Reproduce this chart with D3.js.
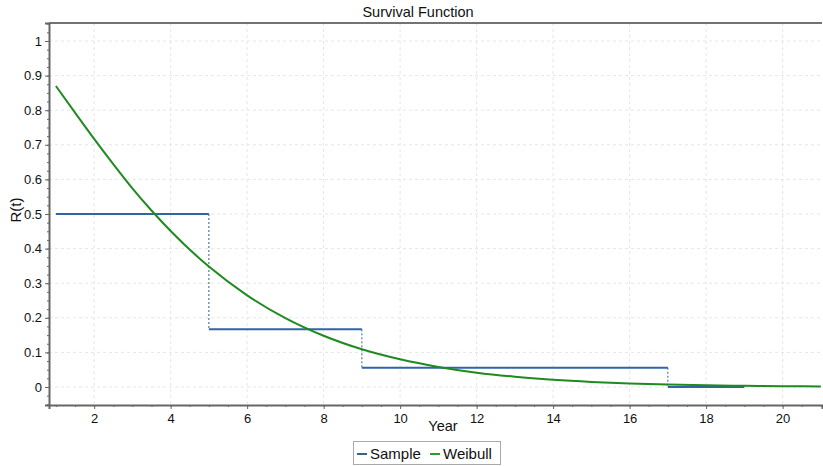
<!DOCTYPE html>
<meta charset="utf-8">
<title>Survival Function</title>
<script src="https://d3js.org/d3.v7.min.js"></script>
<style>
  body { margin: 0; background: white; }
  svg { font-family: "Liberation Sans", Arial, sans-serif; }
  .grid line { stroke: #e6e6e6; stroke-dasharray: 3,3; }
</style>
<body>
<svg class=chart></svg>
<script>

var width = 823;
var height = 466;
var left = 49, top_ = 23, right = 822, bottom = 405;

// sample (empirical) survival steps
var sample_t = [1, 5, 9, 17, 19];
var sample_r = [0.5, 0.1667, 0.0556, 0, 0];

// fitted Weibull curve
var weibull_t = [1, 1.5, 2, 2.5, 3, 3.5, 4, 5, 6, 7, 8, 9, 10, 11, 12, 13, 14, 15, 16, 17, 18, 19, 20, 21];
var weibull_r = [0.870, 0.793, 0.717, 0.644, 0.574, 0.510, 0.451, 0.348, 0.265, 0.199, 0.148, 0.109,
  0.080, 0.058, 0.0415, 0.0296, 0.021, 0.0148, 0.0104, 0.0072, 0.005, 0.0034, 0.0023, 0.0016];

var x_ticks = [2, 4, 6, 8, 10, 12, 14, 16, 18, 20];
var y_ticks = [0, 0.1, 0.2, 0.3, 0.4, 0.5, 0.6, 0.7, 0.8, 0.9, 1];

var svg = d3.select(".chart")
  .attr("width", width)
  .attr("height", height);

var x = d3.scaleLinear().domain([0.82, 21.03]).range([left, right]);
var y = d3.scaleLinear().domain([-0.052, 1.052]).range([bottom, top_]);

// grid
svg.append("g").attr("class", "grid")
  .selectAll("line").data(x_ticks).enter().append("line")
  .attr("x1", d => x(d)).attr("x2", d => x(d))
  .attr("y1", top_).attr("y2", bottom);
svg.append("g").attr("class", "grid")
  .selectAll("line").data(y_ticks).enter().append("line")
  .attr("x1", left).attr("x2", right)
  .attr("y1", d => y(d)).attr("y2", d => y(d));

// top border
svg.append("line")
  .attr("x1", left).attr("x2", right).attr("y1", top_).attr("y2", top_)
  .attr("stroke", "#444").attr("stroke-width", 1.5);

// axes
var x_axis = svg.append("g")
  .attr("transform", "translate(0," + bottom + ")")
  .call(d3.axisBottom(x).tickValues(x_ticks).tickSize(4).tickPadding(5).tickFormat(d3.format("d")));
svg.append("g")
  .attr("transform", "translate(0," + bottom + ")")
  .call(d3.axisBottom(x).tickValues(d3.range(1, 21.01, 0.5)).tickSize(2).tickFormat(""))
  .select(".domain").remove();

var y_axis = svg.append("g")
  .attr("transform", "translate(" + left + ",0)")
  .call(d3.axisLeft(y).tickValues(y_ticks).tickSize(4).tickPadding(3).tickFormat(d3.format("")));
svg.append("g")
  .attr("transform", "translate(" + left + ",0)")
  .call(d3.axisLeft(y).tickValues(d3.range(-0.05, 1.051, 0.025)).tickSize(2).tickFormat(""))
  .select(".domain").remove();

[x_axis, y_axis].forEach(function(a) {
  a.select(".domain").attr("stroke", "#666").attr("stroke-width", 2);
  a.selectAll("text").attr("font-size", 13).attr("fill", "#111")
    .attr("font-family", "'Liberation Sans', Arial, sans-serif");
});
svg.selectAll(".tick line").attr("stroke", "#666");

// sample steps
var step_h = [];
var step_v = [];
for (var i = 0; i < sample_t.length - 1; i++) {
  step_h.push([sample_t[i], sample_t[i + 1], sample_r[i]]);
  if (i < sample_t.length - 2) step_v.push([sample_t[i + 1], sample_r[i], sample_r[i + 1]]);
}

svg.append("g").selectAll("line").data(step_v).enter().append("line")
  .attr("x1", d => x(d[0])).attr("x2", d => x(d[0]))
  .attr("y1", d => y(d[1])).attr("y2", d => y(d[2]))
  .attr("stroke", "#2f5f9a").attr("stroke-width", 1).attr("stroke-dasharray", "2,2");

svg.append("g").selectAll("line").data(step_h).enter().append("line")
  .attr("x1", d => x(d[0])).attr("x2", d => x(d[1]))
  .attr("y1", d => y(d[2])).attr("y2", d => y(d[2]))
  .attr("stroke", "#2f64a6").attr("stroke-width", 2);

// weibull curve
var line = d3.line()
  .x(d => x(d[0])).y(d => y(d[1]))
  .curve(d3.curveMonotoneX);

svg.append("path")
  .datum(d3.zip(weibull_t, weibull_r))
  .attr("d", line)
  .attr("fill", "none")
  .attr("stroke", "#1f8a1f")
  .attr("stroke-width", 2);

// labels
svg.append("text")
  .attr("x", 418).attr("y", 17)
  .attr("text-anchor", "middle").attr("font-size", 14.5).attr("fill", "#111")
  .text("Survival Function");

svg.append("text")
  .attr("x", 443).attr("y", 431)
  .attr("text-anchor", "middle").attr("font-size", 14.5).attr("fill", "#111")
  .text("Year");

svg.append("text")
  .attr("transform", "translate(21,210) rotate(-90)")
  .attr("text-anchor", "middle").attr("font-size", 15).attr("fill", "#111")
  .text("R(t)");

// legend
var legend = svg.append("g");
legend.append("rect")
  .attr("x", 353.5).attr("y", 441.5).attr("width", 147).attr("height", 23)
  .attr("fill", "white").attr("stroke", "#aaa");

var legend_items = [
  {name: "Sample", color: "#3a6286", x: 357},
  {name: "Weibull", color: "#2e9a3a", x: 430}
];
legend.selectAll("g").data(legend_items).enter().append("g")
  .each(function(d) {
    var g = d3.select(this);
    g.append("line")
      .attr("x1", d.x).attr("x2", d.x + 10).attr("y1", 454).attr("y2", 454)
      .attr("stroke", d.color).attr("stroke-width", 2);
    g.append("text")
      .attr("x", d.x + 13).attr("y", 459)
      .attr("font-size", 15).attr("fill", "#111")
      .text(d.name);
  });

</script>
</body>
